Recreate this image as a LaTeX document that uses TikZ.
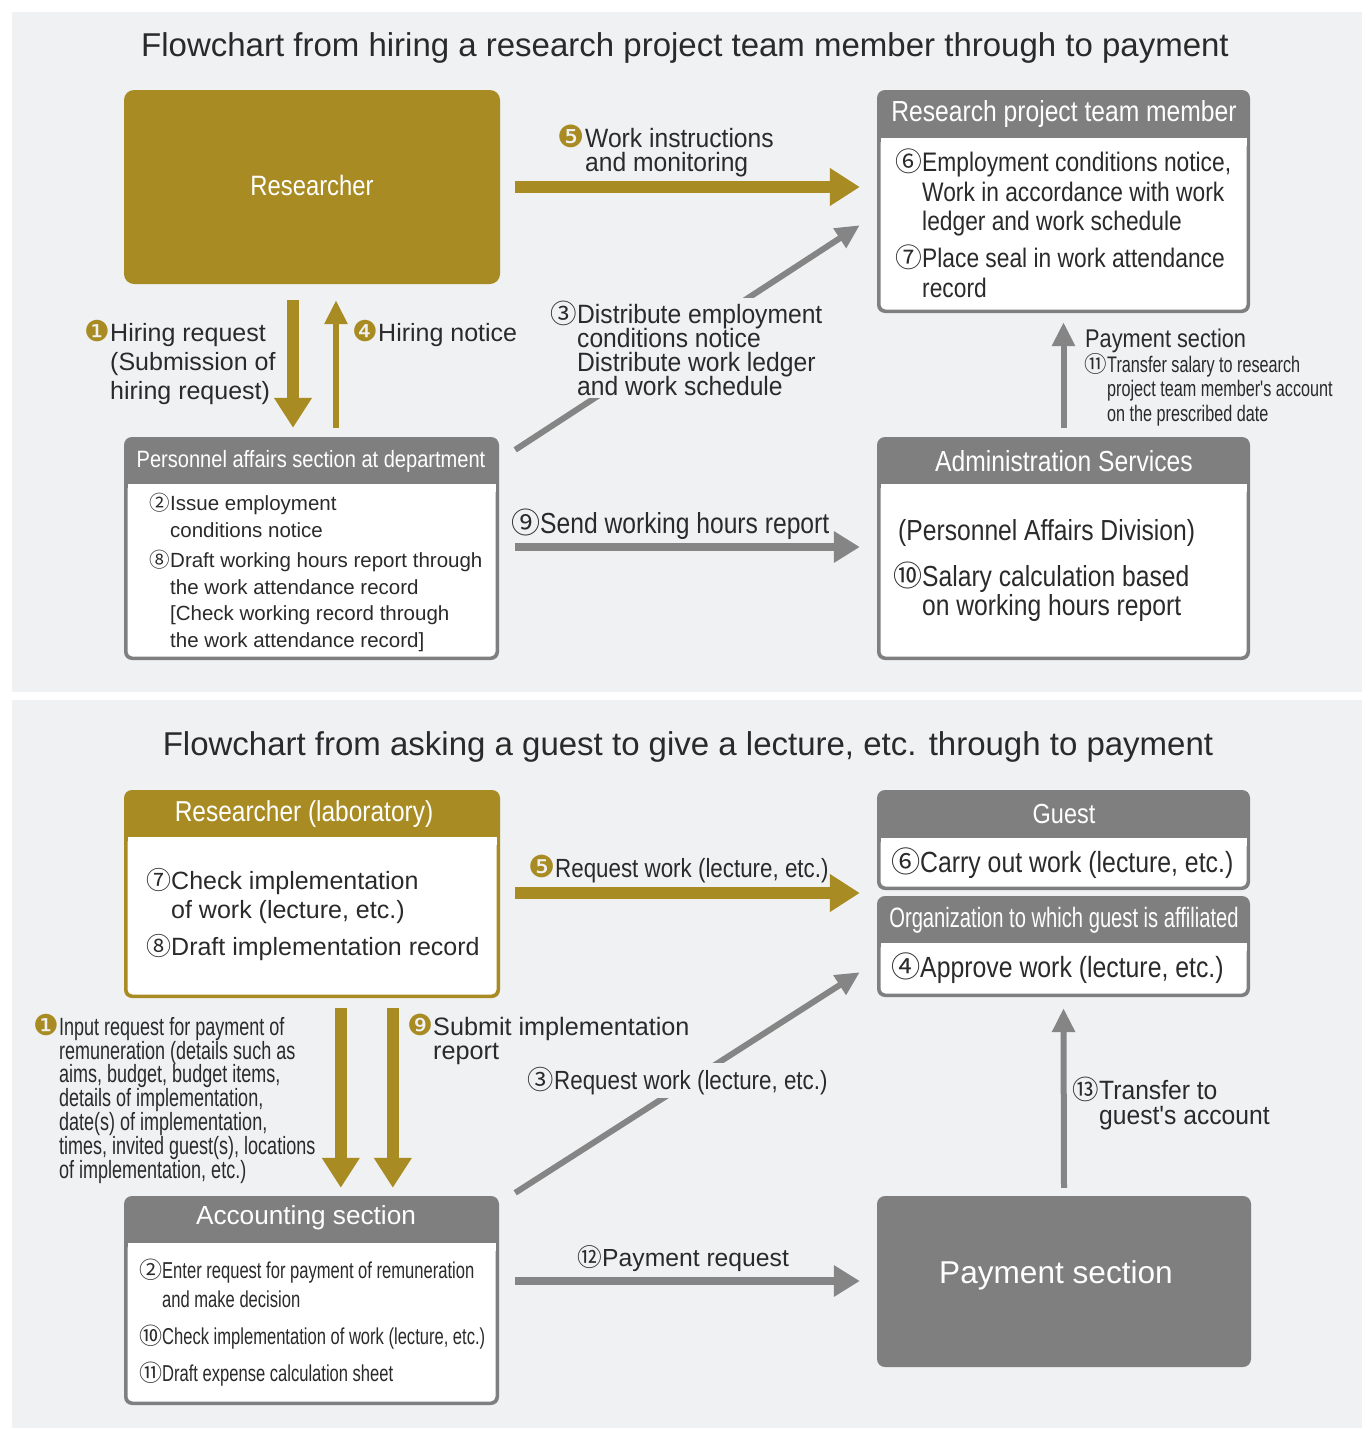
\documentclass[tikz,border=0pt]{standalone}
\usepackage{fontspec}
\setmainfont{Liberation Sans}
\newfontfamily\rf{Liberation Sans}
\newfontfamily\cf[FakeStretch=0.85]{Liberation Sans}
\newfontfamily\mf[FakeStretch=0.93]{Liberation Sans}
\newfontfamily\vf[FakeStretch=0.72]{Liberation Sans}
\newfontfamily\dv{DejaVu Sans}
\newfontfamily\cjk{Noto Sans CJK JP}
\usetikzlibrary{arrows.meta,fit}
\definecolor{gold}{HTML}{A88B22}
\definecolor{hgray}{HTML}{7F7F7F}
\definecolor{agray}{HTML}{858585}
\definecolor{panel}{HTML}{F0F1F2}
\definecolor{txt}{HTML}{2A2A2A}
\newcommand\cn[1]{{\cjk #1}}
\newcommand\fn[1]{{\dv\color{gold}\scalebox{1.15}{#1}}}
\newcommand\fsz[2]{\fontsize{#1}{#2}\selectfont\lineskiplimit=-100pt\relax}
\newcommand\panelbox[7]{%
  \node[fit={(#2,#3)(#4,#5)}, inner sep=0pt, fill=#7, rounded corners=8pt] (#1) {};
  \node[fit={(#2+3.5,#6)(#4-3.5,#5-3.5)}, inner sep=0pt, fill=white, rounded corners=5pt] (#1-body) {};
  \fill[white] (#2+3.5,#6) rectangle (#4-3.5,#6+8);
}
\tikzset{
  lbl/.style={inner sep=0pt, align=left, anchor=base west, text=txt},
  hdr/.style={inner sep=0pt, text=white, anchor=center},
  goldarr/.style={draw=gold, line width=12pt, -{Triangle[width=36pt,length=30pt]}},
  goldthin/.style={draw=gold, line width=6pt, -{Triangle[width=22pt,length=24pt]}},
  grayarr/.style={draw=agray, line width=8pt, -{Triangle[width=30pt,length=26pt]}},
  graythin/.style={draw=agray, line width=6pt, -{Triangle[width=22pt,length=24pt]}},
}
\begin{document}
\begin{tikzpicture}[x=1pt,y=-1pt]
\useasboundingbox (0,0) rectangle (1370,1430);
\fill[white] (0,0) rectangle (1370,1430);
\fill[panel] (12,12) rectangle (1362,692);
\fill[panel] (12,700) rectangle (1362,1428);

% ================= TOP PANEL =================
\node[text=txt, inner sep=0pt, font=\rf\fsz{33}{38}] (t1) at (685,48)
  {Flowchart from hiring a research project team member through to payment};

\node[fit={(124,90)(500,284)}, inner sep=0pt, fill=gold, rounded corners=10pt] (res) {};
\node[hdr, font=\cf\fsz{28}{32}] (resT) at ([yshift=2]res.center) {Researcher};

\panelbox{rtm}{877}{90}{1250}{313}{138}{hgray}
\node[hdr, font=\cf\fsz{29}{32}] (rtmT) at (1064,114) {Research project team member};
\node[lbl, font=\cf\fsz{26.8}{29.5}] (rtmB) at (922,297)
  {\llap{\cn{⑥}}Employment conditions notice,\\Work in accordance with work\\ledger and work schedule\\[7.5pt]\llap{\cn{⑦}}Place seal in work attendance\\record};

\panelbox{pers}{124}{437}{499}{660}{484}{hgray}
\node[hdr, font=\cf\fsz{23.6}{27}] (persT) at (311,461) {Personnel affairs section at department};
\node[lbl, font=\rf\fsz{20.5}{26.5}] (persB) at (170,647)
  {\llap{\cn{②}}Issue employment\\conditions notice\\[4pt]\llap{\cn{⑧}}Draft working hours report through\\the work attendance record\\{[}Check working record through\\the work attendance record{]}};

\panelbox{adm}{877}{437}{1250}{660}{484}{hgray}
\node[hdr, font=\cf\fsz{29}{32}] (admT) at (1064,461) {Administration Services};
\node[lbl, font=\cf\fsz{29}{29}] (admP) at (898,540) {(Personnel Affairs Division)};
\node[lbl, font=\cf\fsz{29}{29}] (admB) at (922,615)
  {\llap{\cn{⑩}}Salary calculation based\\on working hours report};

% arrows top
\draw[goldarr] ([xshift=15pt]res.east) -- ([xshift=-17pt]res.east -| rtm.west);
\node[lbl, font=\mf\fsz{26.5}{24}] (l5) at (585,171)
  {\llap{\fn{❺}}Work instructions\\and monitoring};

\draw[goldarr] ([shift={(-19,16)}]res.south) -- ([shift={(-18.5,-9)}]pers.north);
\draw[goldthin] ([shift={(24.5,-9)}]pers.north) -- ([shift={(24,16)}]res.south);
\node[lbl, font=\rf\fsz{25}{29}] (l1) at (110,399)
  {\llap{\fn{❶}}Hiring request\\(Submission of\\hiring request)};
\node[lbl, font=\rf\fsz{25}{29}] (l4) at (378,341) {\llap{\fn{❹}}Hiring notice};

\draw[graythin] ([shift={(16,13)}]pers.north east) -- ([shift={(-17,-88)}]rtm.south west);
\node[lbl, font=\mf\fsz{26.5}{24}, fill=panel, inner ysep=3pt] (l3) at (577,395)
  {\llap{\cn{③}}Distribute employment\\conditions notice\\Distribute work ledger\\and work schedule};

\draw[grayarr] ([shift={(16,-1.5)}]pers.east) -- ([shift={(-17,-1.5)}]pers.east -| adm.west);
\node[lbl, font=\cf\fsz{29}{29}] (l9) at (540,533) {\llap{\cn{⑨}}Send working hours report};

\draw[graythin] ([shift={(0,-9)}]adm.north) -- ([shift={(0,9)}]rtm.south);
\node[lbl, font=\cf\fsz{25.6}{24}] (l11a) at (1085,347) {Payment section};
\node[lbl, font=\vf\fsz{22.5}{24.5}] (l11b) at (1107,421)
  {\llap{\cn{⑪}}Transfer salary to research\\project team member's account\\on the prescribed date};

% ================= BOTTOM PANEL =================
\node[text=txt, inner sep=0pt, font=\rf\fsz{33}{38}] (t2) at (688,747)
  {Flowchart from asking a guest to give a lecture, etc. through to payment};

\panelbox{rl}{124}{790}{500}{998}{837}{gold}
\node[hdr, font=\cf\fsz{28.8}{32}] (rlT) at (304,814) {Researcher (laboratory)};
\node[lbl, font=\rf\fsz{25}{29}] (rlB) at (171,955)
  {\llap{\cn{⑦}}Check implementation\\of work (lecture, etc.)\\[8pt]\llap{\cn{⑧}}Draft implementation record};

\panelbox{gst}{877}{790}{1250}{890}{838}{hgray}
\node[hdr, font=\cf\fsz{27.6}{30}] (gstT) at (1064,814) {Guest};
\node[lbl, font=\cf\fsz{29.2}{29}] (gstB) at (920,872) {\llap{\cn{⑥}}Carry out work (lecture, etc.)};

\panelbox{org}{877}{896}{1250}{997}{943}{hgray}
\node[hdr, font=\vf\fsz{28}{30}] (orgT) at (1064,920) {Organization to which guest is affiliated};
\node[lbl, font=\cf\fsz{29.2}{29}] (orgB) at (920,977) {\llap{\cn{④}}Approve work (lecture, etc.)};

\panelbox{acc}{124}{1196}{499}{1405}{1243}{hgray}
\node[hdr, font=\rf\fsz{26.2}{30}] (accT) at (306,1218) {Accounting section};
\node[lbl, font=\vf\fsz{23}{29}] (accB) at (162,1381)
  {\llap{\cn{②}}Enter request for payment of remuneration\\and make decision\\[8pt]\llap{\cn{⑩}}Check implementation of work (lecture, etc.)\\[8pt]\llap{\cn{⑪}}Draft expense calculation sheet};

\node[fit={(877,1196)(1251,1367)}, inner sep=0pt, fill=hgray, rounded corners=8pt] (pay) {};
\node[hdr, font=\rf\fsz{31.6}{36}] (payT) at (1056,1275) {Payment section};

% arrows bottom
\draw[goldarr] ([shift={(15,-1)}]rl.east) -- ([shift={(-17,-1)}]rl.east -| gst.west);
\node[lbl, font=\cf\fsz{26.3}{29}] (l5b) at (555,877) {\llap{\fn{❺}}Request work (lecture, etc.)};

\draw[graythin] ([shift={(16,-3)}]acc.north east) -- ([shift={(-17,-25)}]org.south west);
\node[lbl, font=\cf\fsz{26.3}{29}, fill=panel, inner ysep=4pt] (l3b) at (554,1089) {\llap{\cn{③}}Request work (lecture, etc.)};

\draw[goldarr] ([shift={(217,10)}]rl.south west) -- ([shift={(217,-8)}]rl.south west |- acc.north);
\draw[goldarr] ([shift={(269,10)}]rl.south west) -- ([shift={(269,-8)}]rl.south west |- acc.north);
\node[lbl, font=\vf\fsz{25}{23.8}] (l1b) at (59,1178)
  {\llap{\fn{❶}}Input request for payment of\\remuneration (details such as\\aims, budget, budget items,\\details of implementation,\\date(s) of implementation,\\times, invited guest(s), locations\\of implementation, etc.)};
\node[lbl, font=\rf\fsz{25.2}{24}] (l9b) at (433,1059) {\llap{\fn{❾}}Submit implementation\\report};

\draw[grayarr] ([shift={(16,-19.5)}]acc.east) -- ([shift={(-17,-19.5)}]acc.east -| pay.west);
\node[lbl, font=\rf\fsz{24.7}{29}] (l12) at (602,1266) {\llap{\cn{⑫}}Payment request};

\draw[graythin] ([shift={(0,-8)}]pay.north) -- ([shift={(0,11)}]org.south);
\node[lbl, font=\mf\fsz{26.5}{25}] (l13) at (1099,1124) {\llap{\cn{⑬}}Transfer to\\guest's account};
\end{tikzpicture}
\end{document}
